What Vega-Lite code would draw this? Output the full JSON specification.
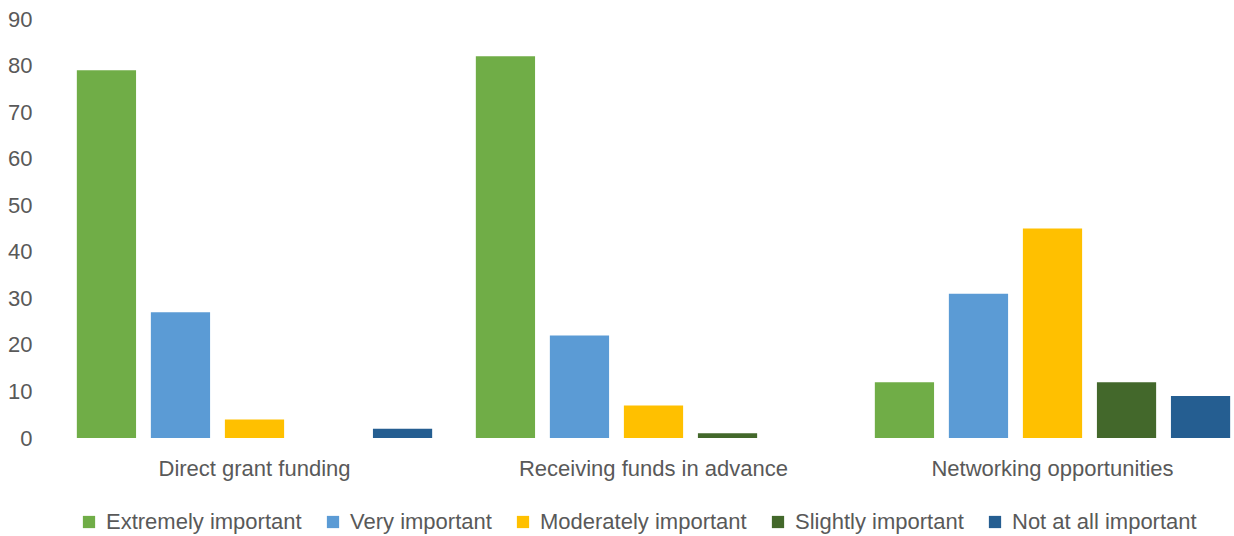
{
  "$schema": "https://vega.github.io/schema/vega-lite/v6.json",
  "autosize": {"type": "none"},
  "width": 1197,
  "height": 419,
  "padding": {"left": 55, "top": 19, "right": 0, "bottom": 98},
  "background": "white",
  "config": {
    "view": {"stroke": null},
    "font": "Liberation Sans"
  },
  "data": {
    "values": [
      {"category": "Direct grant funding", "importance": "Extremely important", "value": 79},
      {"category": "Direct grant funding", "importance": "Very important", "value": 27},
      {"category": "Direct grant funding", "importance": "Moderately important", "value": 4},
      {"category": "Direct grant funding", "importance": "Slightly important", "value": 0},
      {"category": "Direct grant funding", "importance": "Not at all important", "value": 2},
      {"category": "Receiving funds in advance", "importance": "Extremely important", "value": 82},
      {"category": "Receiving funds in advance", "importance": "Very important", "value": 22},
      {"category": "Receiving funds in advance", "importance": "Moderately important", "value": 7},
      {"category": "Receiving funds in advance", "importance": "Slightly important", "value": 1},
      {"category": "Receiving funds in advance", "importance": "Not at all important", "value": 0},
      {"category": "Networking opportunities", "importance": "Extremely important", "value": 12},
      {"category": "Networking opportunities", "importance": "Very important", "value": 31},
      {"category": "Networking opportunities", "importance": "Moderately important", "value": 45},
      {"category": "Networking opportunities", "importance": "Slightly important", "value": 12},
      {"category": "Networking opportunities", "importance": "Not at all important", "value": 9}
    ]
  },
  "mark": {"type": "bar"},
  "encoding": {
    "x": {
      "field": "category",
      "type": "nominal",
      "sort": ["Direct grant funding", "Receiving funds in advance", "Networking opportunities"],
      "scale": {"paddingInner": 0, "paddingOuter": 0},
      "axis": {
        "title": null,
        "labelAngle": 0,
        "domain": false,
        "ticks": false,
        "labelFontSize": 22,
        "labelColor": "#595959",
        "labelPadding": 20,
        "labelLimit": 500
      }
    },
    "xOffset": {
      "field": "importance",
      "type": "nominal",
      "sort": ["Extremely important", "Very important", "Moderately important", "Slightly important", "Not at all important"],
      "scale": {"paddingInner": 0.2, "paddingOuter": 0.295}
    },
    "y": {
      "field": "value",
      "type": "quantitative",
      "scale": {"domain": [0, 90], "nice": false},
      "axis": {
        "title": null,
        "values": [0, 10, 20, 30, 40, 50, 60, 70, 80, 90],
        "domain": false,
        "ticks": false,
        "grid": false,
        "labelFontSize": 22,
        "labelColor": "#595959",
        "labelPadding": 23
      }
    },
    "color": {
      "field": "importance",
      "type": "nominal",
      "sort": ["Extremely important", "Very important", "Moderately important", "Slightly important", "Not at all important"],
      "scale": {
        "domain": ["Extremely important", "Very important", "Moderately important", "Slightly important", "Not at all important"],
        "range": ["#70AD47", "#5B9BD5", "#FFC000", "#43682B", "#255E91"]
      },
      "legend": {
        "title": null,
        "orient": "none",
        "direction": "horizontal",
        "legendX": 23,
        "legendY": 492,
        "symbolType": "square",
        "symbolSize": 150,
        "symbolStrokeWidth": 0,
        "labelFontSize": 22,
        "labelColor": "#595959",
        "labelOffset": 6,
        "columnPadding": 20,
        "labelLimit": 400
      }
    }
  }
}
